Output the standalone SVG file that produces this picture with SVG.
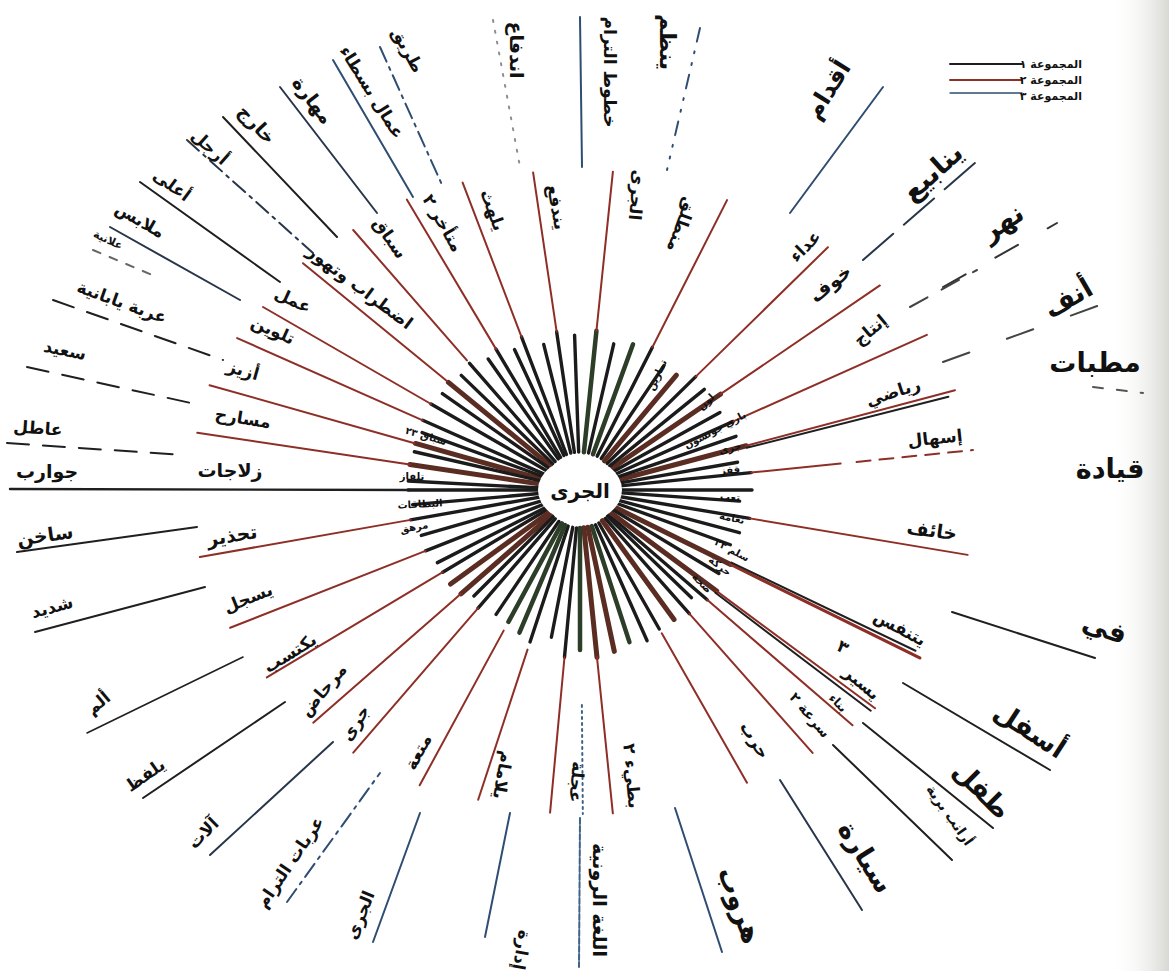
<svg xmlns="http://www.w3.org/2000/svg" width="1169" height="971" viewBox="0 0 1169 971">
<defs>
<linearGradient id="edge" x1="0" y1="0" x2="1" y2="0">
<stop offset="0" stop-color="#ffffff" stop-opacity="0"/>
<stop offset="1" stop-color="#d8d8d4" stop-opacity="1"/>
</linearGradient>
<style>
text{font-family:"DejaVu Sans","Noto Sans",sans-serif;fill:#111;text-anchor:middle;dominant-baseline:central}
.L{font-size:27px;font-weight:bold}
.M{font-size:19px;font-weight:bold}
.S{font-size:17px;font-weight:bold}
.T{font-size:10px;font-weight:bold}
.lg{font-size:11px;text-anchor:end;font-weight:bold}
line{stroke-linecap:round;fill:none}
.sp{stroke:#1b1b1b;stroke-width:3.4}
.sg{stroke:#2c3d28;stroke-width:4.5}
.sb{stroke:#5b2d22;stroke-width:5}
.r{stroke:#8e2f27;stroke-width:2}
.rd{stroke:#8e2f27;stroke-width:2;stroke-dasharray:14 9}
.k{stroke:#1f1f1f;stroke-width:2}
.kd{stroke:#1f1f1f;stroke-width:2;stroke-dasharray:22 14}
.b{stroke:#2f4d72;stroke-width:2}
.bd{stroke:#2f4d72;stroke-width:2;stroke-dasharray:16 6 3 6}
.bo{stroke:#3f6287;stroke-width:2;stroke-dasharray:2 4}
.g{stroke:#8a8f96;stroke-width:2;stroke-dasharray:2 9}
</style>
</defs>
<rect width="1169" height="971" fill="#ffffff"/>
<rect x="1110" y="0" width="59" height="971" fill="url(#edge)"/>

<g id="connectors">
<g id="spokes" transform="translate(580,490)">
<line class="sp" x1="38" x2="168" transform="rotate(-131.1)"/>
<line class="sb" x1="38" x2="170" transform="rotate(-140.7)"/>
<line class="sp" x1="38" x2="172" transform="rotate(-150)"/>
<line class="sp" x1="38" x2="172" transform="rotate(-156.1)"/>
<line class="sb" x1="38" x2="171" transform="rotate(-164.2)"/>
<line class="sb" x1="38" x2="172" transform="rotate(-171.5)"/>
<line class="sp" x1="38" x2="172" transform="rotate(170)"/>
<line class="sp" x1="38" x2="166" transform="rotate(158.5)"/>
<line class="sp" x1="38" x2="160" transform="rotate(149.1)"/>
<line class="sb" x1="38" x2="158" transform="rotate(138.9)"/>
<line class="sp" x1="38" x2="156" transform="rotate(130.8)"/>
<line class="sg" x1="38" x2="150" transform="rotate(118.5)"/>
<line class="sp" x1="38" x2="160" transform="rotate(108.2)"/>
<line class="sp" x1="38" x2="168" transform="rotate(95.3)"/>
<line class="sb" x1="38" x2="168" transform="rotate(84.2)"/>
<line class="sp" x1="38" x2="160" transform="rotate(60.3)"/>
<line class="sp" x1="38" x2="165" transform="rotate(48.5)"/>
<line class="sp" x1="38" x2="168" transform="rotate(40.8)"/>
<line class="sb" x1="38" x2="170" transform="rotate(36.5)"/>
<line class="sb" x1="38" x2="168" transform="rotate(26.3)"/>
<line class="sp" x1="38" x2="172" transform="rotate(9.5)"/>
<line class="sp" x1="38" x2="172" transform="rotate(-5.8)"/>
<line class="sb" x1="38" x2="172" transform="rotate(-14.9)"/>
<line class="sp" x1="38" x2="168" transform="rotate(-24.1)"/>
<line class="sb" x1="38" x2="170" transform="rotate(-34.3)"/>
<line class="sp" x1="38" x2="162" transform="rotate(-44.4)"/>
<line class="sp" x1="38" x2="160" transform="rotate(-63.1)"/>
<line class="sg" x1="38" x2="160" transform="rotate(-84.1)"/>
<line class="sp" x1="38" x2="160" transform="rotate(-98.4)"/>
<line class="sp" x1="38" x2="164" transform="rotate(-110.9)"/>
<line class="sp" x1="38" x2="164" transform="rotate(-120.8)"/>
<line class="sp" x1="38" x2="150" transform="rotate(-77)"/>
<line class="sg" x1="38" x2="155" transform="rotate(-70)"/>
<line class="sp" x1="38" x2="150" transform="rotate(-56)"/>
<line class="sb" x1="38" x2="150" transform="rotate(-50)"/>
<line class="sp" x1="38" x2="160" transform="rotate(-39)"/>
<line class="sp" x1="38" x2="160" transform="rotate(-29)"/>
<line class="sp" x1="38" x2="165" transform="rotate(-19)"/>
<line class="sp" x1="38" x2="160" transform="rotate(-10)"/>
<line class="sp" x1="38" x2="172" transform="rotate(0)"/>
<line class="sp" x1="38" x2="160" transform="rotate(4)"/>
<line class="sp" x1="38" x2="165" transform="rotate(15)"/>
<line class="sp" x1="38" x2="160" transform="rotate(20)"/>
<line class="sp" x1="38" x2="162" transform="rotate(31)"/>
<line class="sp" x1="38" x2="155" transform="rotate(44)"/>
<line class="sb" x1="38" x2="160" transform="rotate(54)"/>
<line class="sp" x1="38" x2="165" transform="rotate(66)"/>
<line class="sg" x1="38" x2="160" transform="rotate(72)"/>
<line class="sb" x1="38" x2="165" transform="rotate(78)"/>
<line class="sg" x1="38" x2="160" transform="rotate(90)"/>
<line class="sp" x1="38" x2="150" transform="rotate(101)"/>
<line class="sg" x1="38" x2="155" transform="rotate(113)"/>
<line class="sp" x1="38" x2="150" transform="rotate(124)"/>
<line class="sp" x1="38" x2="150" transform="rotate(135)"/>
<line class="sb" x1="38" x2="160" transform="rotate(144)"/>
<line class="sp" x1="38" x2="160" transform="rotate(153)"/>
<line class="sp" x1="38" x2="165" transform="rotate(164)"/>
<line class="sp" x1="38" x2="168" transform="rotate(175)"/>
<line class="sp" x1="38" x2="172" transform="rotate(180)"/>
<line class="sp" x1="38" x2="172" transform="rotate(-177)"/>
<line class="sp" x1="38" x2="170" transform="rotate(-167)"/>
<line class="sp" x1="38" x2="168" transform="rotate(-160)"/>
<line class="sp" x1="38" x2="168" transform="rotate(-145)"/>
<line class="sp" x1="38" x2="165" transform="rotate(-136)"/>
<line class="sp" x1="38" x2="160" transform="rotate(-125)"/>
<line class="sp" x1="38" x2="155" transform="rotate(-115)"/>
<line class="sp" x1="38" x2="150" transform="rotate(-104)"/>
<line class="sp" x1="38" x2="155" transform="rotate(-92)"/>
</g>
<g id="mid-lines" transform="translate(580,490)">
<line class="r" x1="172" x2="345" transform="rotate(-131.1)"/>
<line class="r" x1="172" x2="358" transform="rotate(-140.7)"/>
<line class="r" x1="172" x2="366" transform="rotate(-150)"/>
<line class="r" x1="172" x2="375" transform="rotate(-156.1)"/>
<line class="r" x1="172" x2="385" transform="rotate(-164.2)"/>
<line class="r" x1="172" x2="387" transform="rotate(-171.5)"/>
<line class="r" x1="172" x2="386" transform="rotate(170)"/>
<line class="r" x1="166" x2="376" transform="rotate(158.5)"/>
<line class="r" x1="160" x2="365" transform="rotate(149.1)"/>
<line class="r" x1="158" x2="354" transform="rotate(138.9)"/>
<line class="r" x1="156" x2="347" transform="rotate(130.8)"/>
<line class="r" x1="160" x2="336" transform="rotate(118.5)"/>
<line class="r" x1="168" x2="326" transform="rotate(108.2)"/>
<line class="r" x1="168" x2="324" transform="rotate(95.3)"/>
<line class="r" x1="168" x2="325" transform="rotate(84.2)"/>
<line class="r" x1="165" x2="337" transform="rotate(60.3)"/>
<line class="r" x1="165" x2="351" transform="rotate(48.5)"/>
<line class="r" x1="168" x2="360" transform="rotate(40.8)"/>
<line class="r" x1="170" x2="367" transform="rotate(36.5)"/>
<line class="k" x1="170" x2="365" transform="rotate(37.2)"/>
<line class="r" x1="168" x2="379" transform="rotate(26.3)" style="stroke-width:3.2"/>
<line class="k" x1="168" x2="372" transform="rotate(25.6)"/>
<line class="r" x1="172" x2="393" transform="rotate(9.5)"/>
<line class="r" x1="172" x2="262" transform="rotate(-5.8)"/>
<line class="rd" x1="278" x2="395" transform="rotate(-5.8)"/>
<line class="r" x1="172" x2="388" transform="rotate(-14.9)"/>
<line class="k" x1="172" x2="380" transform="rotate(-14.2)"/>
<line class="r" x1="168" x2="380" transform="rotate(-24.1)"/>
<line class="r" x1="170" x2="363" transform="rotate(-34.3)"/>
<line class="r" x1="162" x2="347" transform="rotate(-44.4)"/>
<line class="r" x1="160" x2="325" transform="rotate(-63.1)"/>
<line class="r" x1="160" x2="320" transform="rotate(-84.1)"/>
<line class="r" x1="160" x2="321" transform="rotate(-98.4)"/>
<line class="r" x1="164" x2="329" transform="rotate(-110.9)"/>
<line class="r" x1="164" x2="338" transform="rotate(-120.8)"/>
<line class="bo" x1="215" x2="324" transform="rotate(89.5)"/>
</g>
<g id="outer-lines">
<line class="bd" x1="380" y1="47" x2="443" y2="187"/>
<line class="b" x1="333" y1="60" x2="413" y2="197"/>
<line class="b" x1="280" y1="87" x2="377" y2="213" style="stroke:#27364a"/>
<line class="k" x1="223" y1="117" x2="337" y2="237"/>
<line class="bd" x1="187" y1="140" x2="313" y2="253" style="stroke:#27364a"/>
<line class="k" x1="140" y1="182" x2="280" y2="282"/>
<line class="b" x1="110" y1="227" x2="240" y2="300" style="stroke:#27364a"/>
<line class="kd" x1="93" y1="250" x2="157" y2="277" style="stroke-dasharray:8 10;stroke:#666"/>
<line class="kd" x1="53" y1="300" x2="223" y2="360"/>
<line class="kd" x1="27" y1="367" x2="200" y2="405"/>
<line class="kd" x1="7" y1="443" x2="183" y2="455"/>
<line class="k" x1="10" y1="489" x2="410" y2="490" style="stroke-width:2.4"/>
<line class="k" x1="17" y1="552" x2="197" y2="527"/>
<line class="k" x1="35" y1="632" x2="205" y2="587"/>
<line class="k" x1="87" y1="733" x2="243" y2="657" style="stroke-width:1.6"/>
<line class="k" x1="143" y1="798" x2="285" y2="702"/>
<line class="b" x1="210" y1="855" x2="333" y2="742" style="stroke:#27364a"/>
<line class="bd" x1="287" y1="902" x2="380" y2="773"/>
<line class="b" x1="373" y1="942" x2="420" y2="813"/>
<line class="b" x1="485" y1="937" x2="510" y2="813"/>
<line class="bo" x1="580" y1="818" x2="579" y2="967" style="stroke-dasharray:6 2"/>
<line class="b" x1="675" y1="808" x2="722" y2="952"/>
<line class="b" x1="780" y1="780" x2="862" y2="910" style="stroke:#27364a"/>
<line class="k" x1="833" y1="745" x2="952" y2="860"/>
<line class="k" x1="863" y1="723" x2="993" y2="828"/>
<line class="k" x1="903" y1="683" x2="1050" y2="770"/>
<line class="k" x1="952" y1="612" x2="1095" y2="658"/>
<line class="kd" x1="1093" y1="387" x2="1143" y2="393" style="stroke-dasharray:10 14;stroke:#555"/>
<line class="kd" x1="943" y1="362" x2="1100" y2="305" style="stroke-dasharray:28 40;stroke:#444"/>
<line class="kd" x1="910" y1="307" x2="977" y2="270" style="stroke-dasharray:20 16;stroke:#444"/>
<line class="kd" x1="943" y1="287" x2="1057" y2="223" style="stroke-dasharray:26 34;stroke:#333"/>
<line class="kd" x1="863" y1="260" x2="975" y2="163" style="stroke-dasharray:40 14;stroke:#27364a"/>
<line class="b" x1="790" y1="213" x2="883" y2="87"/>
<line class="bd" x1="700" y1="28" x2="667" y2="170" style="stroke-dasharray:14 10 2 10 2 10"/>
<line class="b" x1="580" y1="17" x2="582" y2="167"/>
<line class="g" x1="493" y1="20" x2="520" y2="167"/>
</g>
</g>

<g id="hub">
<ellipse cx="580" cy="490" rx="42" ry="32" fill="#ffffff"/>
<text x="580" y="491" style="font-size:20px;font-weight:bold">الجرى</text>
</g>

<g id="inner-labels" class="T">
<g id="n-tamarin"><text class="T" transform="translate(657,375) rotate(-65)">تمارين</text></g>
<g id="n-lon"><text class="T" transform="translate(706,402) rotate(-45)">لون</text></g>
<g id="n-johnson"><text class="T" transform="translate(715,430) rotate(-28)">باري جونسون</text></g>
<g id="n-jari-i"><text class="T" transform="translate(730,448) rotate(-14)">جرى</text></g>
<g id="n-qafz"><text class="T" transform="translate(730,470) rotate(-4)">قفز</text></g>
<g id="n-taab"><text class="T" transform="translate(730,497) rotate(5)">تعب</text></g>
<g id="n-naama"><text class="T" transform="translate(732,518) rotate(12)">نعامة</text></g>
<g id="n-sullam"><text class="T" transform="translate(732,550) rotate(28)">سلم ٢٢</text></g>
<g id="n-haraka"><text class="T" transform="translate(720,566) rotate(38)">حركة</text></g>
<g id="n-sihha"><text class="T" transform="translate(702,583) rotate(45)">صحة</text></g>
<g id="n-sibaq23"><text class="T" transform="translate(426,436) rotate(16)">سباق ٢٣</text></g>
<g id="n-tilfaz"><text class="T" transform="translate(412,476) rotate(0)">تلفاز</text></g>
<g id="n-bitaqat"><text class="T" transform="translate(420,504) rotate(-3)">البطاقات</text></g>
<g id="n-murhaq"><text class="T" transform="translate(414,527) rotate(-10)">مرهق</text></g>
</g>

<g id="mid-labels">
<g id="n-sibaq"><text class="S" transform="translate(390,238) rotate(55)">سباق</text></g>
<g id="n-idtirab"><text class="S" transform="translate(360,287) rotate(37)">اضطراب وتهور</text></g>
<g id="n-amal"><text class="S" transform="translate(293,300) rotate(25)">عمل</text></g>
<g id="n-talwin"><text class="S" transform="translate(273,330) rotate(24)">تلوين</text></g>
<g id="n-aziz"><text class="S" transform="translate(243,370) rotate(16)">أزيز</text></g>
<g id="n-masarih"><text class="S" transform="translate(243,418) rotate(9)">مسارح</text></g>
<g id="n-zalajat"><text class="M" transform="translate(230,470) rotate(0)">زلاجات</text></g>
<g id="n-tahdhir"><text class="M" transform="translate(232,535) rotate(-9)">تحذير</text></g>
<g id="n-yusajjil"><text class="S" transform="translate(248,598) rotate(-22)">يسجل</text></g>
<g id="n-yaktasib"><text class="S" transform="translate(290,653) rotate(-32)">يكتسب</text></g>
<g id="n-mirhad"><text class="S" transform="translate(323,690) rotate(-50)">مرحاض</text></g>
<g id="n-jari-m"><text class="S" transform="translate(355,723) rotate(-58)">جرى</text></g>
<g id="n-mutaa"><text class="S" transform="translate(418,752) rotate(-62)">متعة</text></g>
<g id="n-yalamam"><text class="S" transform="translate(503,775) rotate(100)">يلامام</text></g>
<g id="n-ajala"><text class="S" transform="translate(577,782) rotate(95)">عجلة</text></g>
<g id="n-bati"><text class="S" transform="translate(632,776) rotate(85)">بطيء ٢</text></g>
<g id="n-harb"><text class="S" transform="translate(755,740) rotate(58)">حرب</text></g>
<g id="n-sura2"><text class="T" style="font-size:14px" transform="translate(810,715) rotate(50)">سرعة ٢</text></g>
<g id="n-bina"><text class="T" style="font-size:12px" transform="translate(838,703) rotate(45)">بناء</text></g>
<g id="n-yasir"><text class="S" transform="translate(862,683) rotate(40)">يسير</text></g>
<g id="n-three"><text class="S" transform="translate(843,647) rotate(28)">٣</text></g>
<g id="n-yatanaffas"><text class="S" transform="translate(900,628) rotate(28)">يتنفس</text></g>
<g id="n-khaif"><text class="M" transform="translate(932,530) rotate(8)">خائف</text></g>
<g id="n-ishal"><text class="S" transform="translate(935,438) rotate(-6)">إسهال</text></g>
<g id="n-riyadi"><text class="S" transform="translate(893,392) rotate(-18)">رياضي</text></g>
<g id="n-intaj"><text class="S" transform="translate(870,330) rotate(-40)">إنتاج</text></g>
<g id="n-khawf"><text class="M" transform="translate(830,283) rotate(-38)">خوف</text></g>
<g id="n-adda"><text class="S" transform="translate(805,246) rotate(-45)">عداء</text></g>
<g id="n-muntaliq"><text class="S" transform="translate(682,225) rotate(110)">منطلق</text></g>
<g id="n-jari-t"><text class="S" transform="translate(637,195) rotate(95)">الجرى</text></g>
<g id="n-yandafi"><text class="S" transform="translate(557,207) rotate(80)">يندفع</text></g>
<g id="n-yalhath"><text class="S" transform="translate(493,210) rotate(70)">يلهث</text></g>
<g id="n-mutaakhir"><text class="S" transform="translate(443,223) rotate(60)">متأخر ٢</text></g>
</g>

<g id="outer-labels">
<g id="n-tariq"><text class="S" transform="translate(408,50) rotate(62)">طريق</text></g>
<g id="n-ummal"><text class="S" transform="translate(372,92) rotate(58)">عمال بسطاء</text></g>
<g id="n-mahara"><text class="M" transform="translate(313,100) rotate(53)">مهارة</text></g>
<g id="n-kharij"><text class="M" transform="translate(257,124) rotate(47)">خارج</text></g>
<g id="n-arjul"><text class="S" transform="translate(210,147) rotate(42)">أرجل</text></g>
<g id="n-ala"><text class="S" transform="translate(172,185) rotate(36)">أعلى</text></g>
<g id="n-malabis"><text class="S" transform="translate(140,220) rotate(30)">ملابس</text></g>
<g id="n-alaniya"><text class="T" style="font-size:11px" transform="translate(108,240) rotate(25)">علانية</text></g>
<g id="n-araba"><text class="S" transform="translate(122,302) rotate(20)">عربة يابانية</text></g>
<g id="n-said"><text class="S" transform="translate(65,350) rotate(12)">سعيد</text></g>
<g id="n-atil"><text class="S" transform="translate(38,428) rotate(4)">عاطل</text></g>
<g id="n-jawarib"><text class="M" transform="translate(47,471) rotate(0)">جوارب</text></g>
<g id="n-sakhin"><text class="M" transform="translate(45,535) rotate(-8)">ساخن</text></g>
<g id="n-shadid"><text class="S" transform="translate(52,607) rotate(-15)">شديد</text></g>
<g id="n-alam"><text class="S" transform="translate(98,703) rotate(-40)">ألم</text></g>
<g id="n-yalfiz"><text class="S" transform="translate(145,775) rotate(-35)">يلفظ</text></g>
<g id="n-alat"><text class="S" transform="translate(203,833) rotate(-45)">آلات</text></g>
<g id="n-arabat"><text class="S" transform="translate(290,862) rotate(-56)">عربات الترام</text></g>
<g id="n-jari-b"><text class="S" transform="translate(360,915) rotate(-68)">الجرى</text></g>
<g id="n-idara"><text class="S" transform="translate(522,950) rotate(100)">إدارة</text></g>
<g id="n-lugha"><text class="M" transform="translate(600,900) rotate(90)">اللغة الرونية</text></g>
<g id="n-hurub"><text class="L" transform="translate(740,905) rotate(70)">هروب</text></g>
<g id="n-sayyara"><text class="L" transform="translate(866,857) rotate(58)">سيارة</text></g>
<g id="n-aranib"><text class="T" style="font-size:14px" transform="translate(950,815) rotate(55)">أرانب برية</text></g>
<g id="n-tifl"><text class="L" transform="translate(982,790) rotate(45)">طفل</text></g>
<g id="n-asfal"><text class="L" transform="translate(1030,730) rotate(33)">أسفل</text></g>
<g id="n-fi"><text class="L" transform="translate(1105,628) rotate(20)">في</text></g>
<g id="n-qiyada"><text class="L" transform="translate(1110,468)">قيادة</text></g>
<g id="n-matabbat"><text class="L" transform="translate(1095,362)">مطبات</text></g>
<g id="n-anf"><text class="L" transform="translate(1068,298) rotate(-30)">أنف</text></g>
<g id="n-nahr"><text class="L" transform="translate(1002,222) rotate(-33)">نهر</text></g>
<g id="n-yanabi"><text class="L" transform="translate(932,172) rotate(-42)">ينابيع</text></g>
<g id="n-aqdam"><text class="L" style="font-size:24px" transform="translate(828,90) rotate(-58)">أقدام</text></g>
<g id="n-yunazzim"><text class="L" style="font-size:22px" transform="translate(667,42) rotate(90)">ينظم</text></g>
<g id="n-khutut"><text class="S" transform="translate(610,72) rotate(90)">خطوط الترام</text></g>
<g id="n-indifa"><text class="M" transform="translate(517,50) rotate(90)">اندفاع</text></g>
</g>

<g id="legend">
<line class="k" x1="950" y1="64" x2="1022" y2="64"/>
<line class="r" x1="950" y1="80" x2="1022" y2="80"/>
<line class="b" x1="950" y1="93" x2="1022" y2="93" style="stroke-width:1.4"/>
<text class="lg" x="1082" y="64">المجموعة ١</text>
<text class="lg" x="1082" y="80">المجموعة ٢</text>
<text class="lg" x="1082" y="96">المجموعة ٣</text>
</g>
</svg>
